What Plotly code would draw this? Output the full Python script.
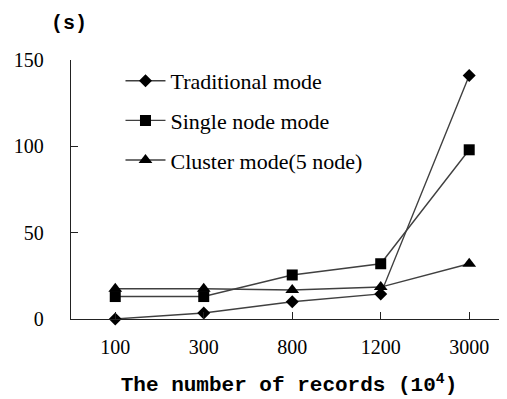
import plotly.graph_objects as go

categories = ["100", "300", "800", "1200", "3000"]
traditional = [0, 3.5, 10, 14.5, 141]
single_node = [13, 13, 25.5, 32, 98]
cluster = [17.5, 17.5, 16.8, 18.5, 32]

y_ticks = [0, 50, 100, 150]

fig = go.Figure()
series = [
    ("Traditional mode", traditional, "diamond", 10),
    ("Single node mode", single_node, "square", 11),
    ("Cluster mode(5 node)", cluster, "triangle-up", 12),
]
for i, (name, vals, sym, sz) in enumerate(series):
    fig.add_trace(go.Scatter(
        x=categories, y=vals, name=name, mode="lines+markers",
        line=dict(color="#404040", width=1.4),
        marker=dict(symbol=sym, size=sz, color="black"),
        legendgroup=f"g{i}", cliponaxis=False,
    ))

fig.update_layout(
    width=507, height=399,
    margin=dict(l=63, r=8, t=52, b=88, autoexpand=False),
    paper_bgcolor="white", plot_bgcolor="white",
    showlegend=True,
    legend=dict(x=0.1135, y=1.0, xanchor="left", yanchor="top",
                font=dict(family="Liberation Serif", size=22, color="black"),
                bgcolor="rgba(0,0,0,0)", tracegroupgap=8, itemwidth=40),
    xaxis=dict(type="category", range=[-0.5, 4.427], showline=True, linecolor="#222",
               linewidth=1.3, ticks="inside", ticklen=7, tickcolor="#222",
               showgrid=False, zeroline=False, ticklabelstandoff=10,
               tickfont=dict(family="Liberation Serif", size=20, color="black"),
               title=dict(text="<b>The number of records (10<sup>4</sup>)</b>",
                          font=dict(family="Liberation Mono", size=21, color="black"),
                          standoff=19)),
    yaxis=dict(range=[0, 150], tickvals=y_ticks, showline=True, linecolor="#222",
               linewidth=1.3, ticks="inside", ticklen=7, tickcolor="#222",
               showgrid=False, zeroline=False, ticklabelstandoff=22,
               tickfont=dict(family="Liberation Serif", size=20, color="black")),
    annotations=[dict(text="<b>(s)</b>", xref="paper", yref="paper", x=-0.005, y=1.14,
                      xanchor="center", yanchor="middle", showarrow=False,
                      font=dict(family="Liberation Mono", size=20, color="black"))],
)
fig.write_html("out.html")
